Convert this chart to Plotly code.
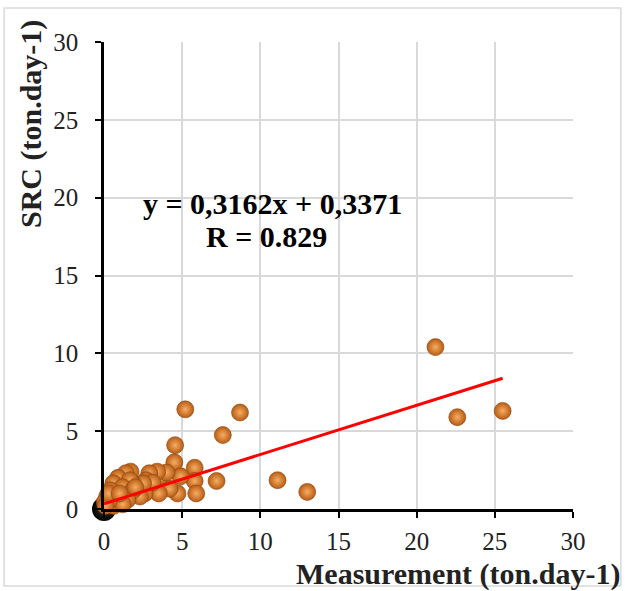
import plotly.graph_objects as go

# Measurement (x) vs SRC (y), ton.day-1
meas = [21.2, 22.6, 25.5, 5.2, 8.7, 7.6, 4.55, 11.1, 13.0, 7.2,
        4.5, 5.8, 5.8, 5.9, 4.7, 4.9, 4.2, 3.5, 3.6, 4.0, 3.4, 2.9, 2.7, 3.1,
        2.6, 2.3, 2.5, 1.8, 1.7, 1.4, 0.9, 1.65, 0.6, 1.2, 0.4, 1.85, 0.2,
        0.8, 1.5, 0.05, 0.6, 1.2, 0.3, 0.1, 0.3, 1.0, 2.0]
src = [10.4, 5.9, 6.3, 6.4, 6.2, 4.75, 4.1, 1.85, 1.1, 1.8,
       3.0, 2.65, 1.8, 1.0, 1.0, 2.1, 1.3, 1.0, 2.1, 2.35, 2.4, 2.3, 1.85, 1.7,
       1.0, 0.8, 1.65, 1.7, 2.4, 2.3, 2.0, 1.85, 1.65, 1.4, 1.2, 1.2, 0.8,
       0.6, 0.6, 0.45, 0.2, 0.3, 0.5, 0.2, 1.0, 1.0, 1.4]
zero_x = [0.0]
zero_y = [0.0]

slope = 0.3162
intercept = 0.3371
fit_x = [0.0, 25.5]
fit_y = [slope * v + intercept for v in fit_x]

ticks = [0, 5, 10, 15, 20, 25, 30]
serif = "'Liberation Serif', 'Times New Roman', 'DejaVu Serif', serif"

fig = go.Figure()
fig.add_trace(go.Scatter(
    x=zero_x, y=zero_y, mode="markers", cliponaxis=False,
    marker=dict(size=24, color="#000000", gradient=dict(type="radial", color="#3a3a3a"),
                line=dict(width=0)),
    showlegend=False))
fig.add_trace(go.Scatter(
    x=meas, y=src, mode="markers", cliponaxis=False,
    marker=dict(size=17, color="#B85C14", gradient=dict(type="radial", color="#F7AD62"),
                line=dict(width=0.6, color="#8a4410")),
    showlegend=False))
fig.add_trace(go.Scatter(
    x=fit_x, y=fit_y, mode="lines", line=dict(color="#FF0000", width=3),
    showlegend=False))

axis_common = dict(
    range=[0, 30], tickvals=ticks, showgrid=True, gridcolor="#D9D9D9", gridwidth=1.5,
    showline=True, linecolor="#000000", linewidth=2.5, ticks="outside", ticklen=6,
    tickwidth=2, tickcolor="#000000", zeroline=False,
    tickfont=dict(family=serif, size=25, color="#222222"), fixedrange=True)

fig.update_layout(
    width=625, height=591, plot_bgcolor="white", paper_bgcolor="white",
    font=dict(family=serif),
    margin=dict(l=104, r=52, t=42, b=82),
    xaxis=dict(**axis_common, ticklabelstandoff=2),
    yaxis=dict(**axis_common, ticklabelstandoff=12),
    shapes=[dict(type="rect", xref="paper", yref="paper", x0=-0.213, x1=1.102,
                 y0=-0.165, y1=1.073, line=dict(color="#D9D9D9", width=1.5),
                 layer="below")],
    annotations=[
        dict(text="<b>y = 0,3162x + 0,3371</b>", x=10.75, y=19.6, xref="x", yref="y",
             showarrow=False, font=dict(family=serif, size=30, color="#000000")),
        dict(text="<b>R = 0.829</b>", x=10.4, y=17.5, xref="x", yref="y",
             showarrow=False, font=dict(family=serif, size=30, color="#000000")),
        dict(text="<b>SRC (ton.day-1)</b>", x=-0.156, y=0.824, xref="paper", yref="paper",
             xanchor="center", yanchor="middle",
             textangle=-90, showarrow=False, font=dict(family=serif, size=30, color="#222222")),
        dict(text="<b>Measurement (ton.day-1)</b>", x=1.104, y=-0.139, xref="paper",
             yref="paper", xanchor="right", yanchor="middle", showarrow=False,
             font=dict(family=serif, size=30, color="#222222")),
    ],
)

fig.write_html("out.html")
